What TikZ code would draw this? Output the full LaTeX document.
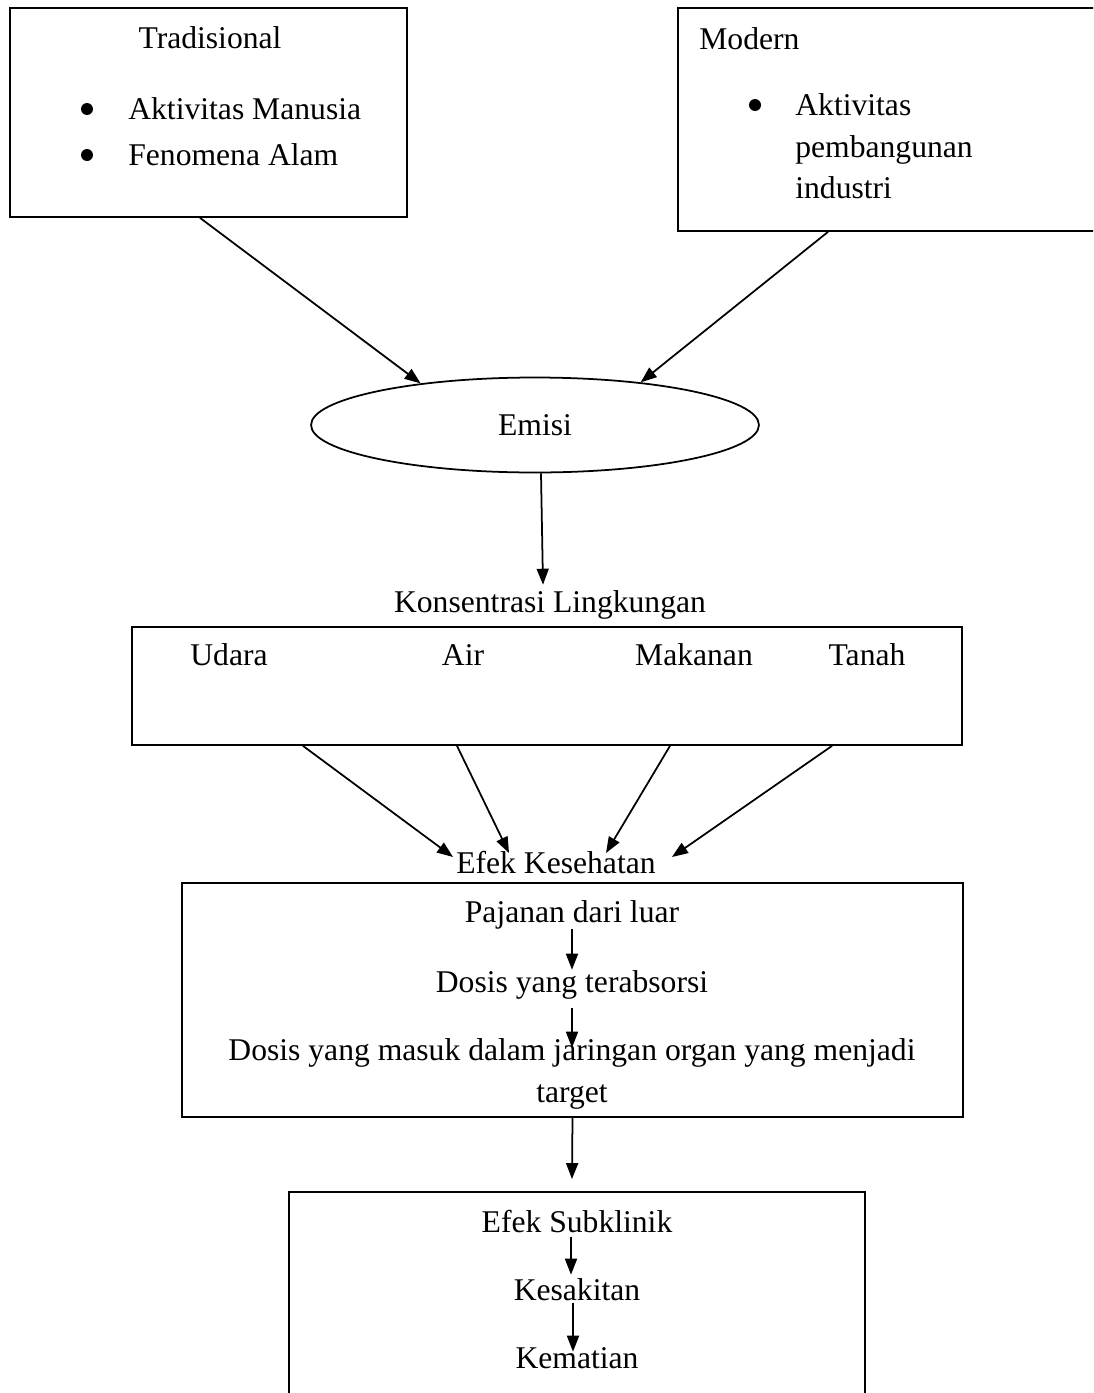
\documentclass[tikz,border=0pt]{standalone}
\usepackage{fontspec}
\setmainfont{Liberation Serif}
\usetikzlibrary{arrows.meta,shapes.geometric,fit,calc}

\begin{document}
\begin{tikzpicture}[
            x=0.02cm, y=-0.02cm,
            font=\fontsize{18}{24}\selectfont,
            kotak/.style ={draw, line width=1pt, inner sep=0pt},
            teks/.style  ={inner sep=0pt, anchor=base},
            kiri/.style  ={inner sep=0pt, anchor=base west},
            panah/.style ={-{Triangle[length=0.32cm,width=0.24cm]}, line width=1pt},
            butir/.style ={circle, fill, inner sep=0pt, minimum size=0.24cm}
        ]
            \useasboundingbox (0,0) rectangle (1093,1393);
            \clip (0,0) rectangle (1093,1393);

            %-----------------  Sumber: tradisional dan modern  --------------
            \node[kotak, fit={(10,8) (407,217)}] (trad) {};
            \node[teks] (tradjudul) at (210,48) {Tradisional};
            \node[butir] (b1) at (87,109) {};
            \node[kiri] (manusia) at (128,119) {Aktivitas Manusia};
            \node[butir] (b2) at (87,155) {};
            \node[kiri] (alam) at (128,165) {Fenomena Alam};

            \node[kotak, fit={(678,8) (1120,231)}] (modern) {};   % keluar tepi kanan
            \node[kiri] (modjudul) at (699,49) {Modern};
            \node[butir] (b3) at (755,105) {};
            \node[kiri] (aktiv) at (795,115) {Aktivitas};
            \node[kiri] (bangun) at (795,157) {pembangunan};
            \node[kiri] (industri) at (795,198) {industri};

            %-----------------  Emisi  ----------------------------------------
            \node[kotak, ellipse, minimum width=8.96cm, minimum height=1.9cm] (emisi) at (535,425) {Emisi};
            \draw[panah] ($(trad.south)+(-8.5,0)$) -- (emisi.160);
            \draw[panah] ($(modern.south)+(-71,0)$) -- (emisi.22);

            \node[teks] (konsen) at (550,612) {Konsentrasi Lingkungan};
            \draw[panah] ($(emisi.south)+(6,0)$) -- ($(konsen.north)+(-7,-5)$);

            %-----------------  Media lingkungan  -----------------------------
            \node[kotak, fit={(132,627) (962,745)}] (media) {};
            \node[teks] (udara) at (229,665) {Udara};
            \node[teks] (air) at (463,665) {Air};
            \node[teks] (makanan) at (694,665) {Makanan};
            \node[teks] (tanah) at (867,665) {Tanah};

            \node[teks] (efek) at (556,873) {Efek Kesehatan};
            \draw[panah] ($(media.south)+(-244,0)$) -- ($(efek.base)+(-103,-16)$);
            \draw[panah] ($(media.south)+(-90,0)$)  -- ($(efek.base)+(-47,-20)$);
            \draw[panah] ($(media.south)+(123,0)$)  -- ($(efek.base)+(50,-20)$);
            \draw[panah] ($(media.south)+(285,0)$)  -- ($(efek.base)+(116,-16)$);

            %-----------------  Pajanan dan dosis  ----------------------------
            \node[kotak, fit={(182,883) (963,1117)}] (pajanan) {};
            \node[teks] (luar) at (572,922) {Pajanan dari luar};
            \node[teks] (serap) at (572,992) {Dosis yang terabsorsi};
            \node[teks] (masuk) at (572,1060) {Dosis yang masuk dalam jaringan organ yang menjadi};
            \node[teks] (target) at (572,1102) {target};
            \draw[panah] (luar.south) -- (serap.north);
            \draw[panah] ($(serap.south)+(0,9)$) -- ($(masuk.north)+(0,10)$);

            %-----------------  Akibat  ---------------------------------------
            \node[kotak, fit={(289,1192) (865,1420)}] (akibat) {};   % keluar tepi bawah
            \draw[panah] (pajanan.south) -- ($(akibat.north)+(-5,-12)$);

            \node[teks] (subklinik) at (577,1232) {Efek Subklinik};
            \node[teks] (sakit) at (577,1300) {Kesakitan};
            \node[teks] (mati) at (577,1368) {Kematian};
            \draw[panah] ($(subklinik.south)+(-6,4)$) -- ($(sakit.north)+(-6,-3)$);
            \draw[panah] ($(sakit.south)+(-4,2)$) -- ($(mati.north)+(-4,5)$);
        \end{tikzpicture}
\end{document}
